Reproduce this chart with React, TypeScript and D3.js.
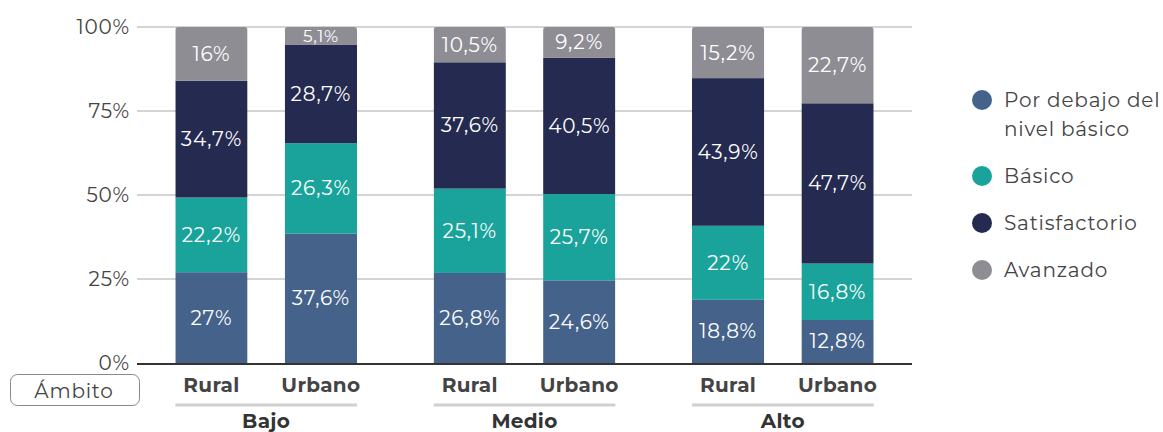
import React from 'react'
import * as d3 from 'd3'

const WIDTH = 1163
const HEIGHT = 432

const groups = ['Bajo', 'Medio', 'Alto']
const ambitos = ['Rural', 'Urbano']
const levels = ['Por debajo del nivel básico', 'Básico', 'Satisfactorio', 'Avanzado']
const legendLines = [['Por debajo del', 'nivel básico'], ['Básico'], ['Satisfactorio'], ['Avanzado']]
const colors = ['#45638a', '#19a39b', '#252b50', '#8e8d94']

// percentages per bar, order: Bajo Rural, Bajo Urbano, Medio Rural, Medio Urbano, Alto Rural, Alto Urbano
const porDebajo = [27, 37.6, 26.8, 24.6, 18.8, 12.8]
const basico = [22.2, 26.3, 25.1, 25.7, 22, 16.8]
const satisfactorio = [34.7, 28.7, 37.6, 40.5, 43.9, 47.7]
const avanzado = [16, 5.1, 10.5, 9.2, 15.2, 22.7]

const yTicks = [0, 25, 50, 75, 100]

const FONT = "Montserrat, 'Open Sans', 'Noto Sans', sans-serif"
const LS = 0.8

const fmt = (v: number) => String(v).replace('.', ',') + '%'

export default function App() {
  const rows = groups.flatMap((g, gi) =>
    ambitos.map((a, ai) => {
      const i = gi * 2 + ai
      return {
        group: g,
        ambito: a,
        [levels[0]]: porDebajo[i],
        [levels[1]]: basico[i],
        [levels[2]]: satisfactorio[i],
        [levels[3]]: avanzado[i],
      } as any
    })
  )

  // bars are normalised to 100%
  const stacked = d3.stack<any>().keys(levels).offset(d3.stackOffsetExpand)(rows)

  const x0 = d3.scaleBand().domain(groups).range([137, 912]).padding(0)
  const x1 = d3.scaleBand().domain(ambitos).range([0, x0.bandwidth()]).paddingInner(0.34).paddingOuter(0.35)
  const y = d3.scaleLinear().domain([0, 1]).range([363, 27])
  const color = d3.scaleOrdinal<string>().domain(levels).range(colors)

  const barX = (d: any) => (x0(d.group) as number) + (x1(d.ambito) as number)
  const bw = x1.bandwidth()

  return (
    <svg width={WIDTH} height={HEIGHT} style={{ display: 'block', position: 'absolute', left: 0, top: 0 }} fontFamily={FONT}>
      <defs>
        {rows.map((d, i) => (
          <clipPath id={`clip${i}`} key={i}>
            <rect x={barX(d)} y={y(1)} width={bw} height={y(0) - y(1) + 10} rx={3} />
          </clipPath>
        ))}
      </defs>

      {/* grid */}
      <g>
        {yTicks.map((t) => (
          <g key={t}>
            {t > 0 && <line x1={137} x2={912} y1={y(t / 100)} y2={y(t / 100)} stroke="#d4d4d4" strokeWidth={2} />}
            <text x={130} y={y(t / 100)} dy="0.35em" textAnchor="end" fontSize={20} letterSpacing={LS} fill="#444">
              {t}%
            </text>
          </g>
        ))}
      </g>

      {/* bars */}
      {rows.map((d, i) => (
        <g key={i} clipPath={`url(#clip${i})`}>
          {stacked.map((s) => (
            <rect
              key={s.key}
              x={barX(d)}
              y={y(s[i][1])}
              width={bw}
              height={y(s[i][0]) - y(s[i][1])}
              fill={color(s.key)}
            />
          ))}
        </g>
      ))}

      {/* value labels */}
      {rows.map((d, i) =>
        stacked.map((s) => {
          const v = s[i][1] - s[i][0]
          const small = v < 0.07
          return (
            <text
              key={`${i}-${s.key}`}
              x={barX(d) + bw / 2}
              y={(y(s[i][0]) + y(s[i][1])) / 2}
              dy="0.35em"
              textAnchor="middle"
              fontSize={small ? 17 : 20}
              letterSpacing={small ? 0.6 : LS}
              fill="#ffffff"
            >
              {fmt(d[s.key])}
            </text>
          )
        })
      )}

      {/* x axis */}
      <line x1={137} x2={912} y1={y(0) + 1} y2={y(0) + 1} stroke="#333" strokeWidth={2} />

      {rows.map((d, i) => (
        <text key={i} x={barX(d) + bw / 2} y={385} dy="0.35em" textAnchor="middle" fontSize={20} fontWeight={700} letterSpacing={0.3} fill="#444">
          {d.ambito}
        </text>
      ))}

      {groups.map((g) => {
        const start = (x0(g) as number) + (x1(ambitos[0]) as number)
        const end = (x0(g) as number) + (x1(ambitos[ambitos.length - 1]) as number) + bw
        return (
          <g key={g}>
            <line x1={start} x2={end} y1={405} y2={405} stroke="#d0d0d0" strokeWidth={3} />
            <text x={(start + end) / 2} y={421} dy="0.35em" textAnchor="middle" fontSize={20} fontWeight={700} letterSpacing={0.3} fill="#333">
              {g}
            </text>
          </g>
        )
      })}

      {/* Ámbito box */}
      <rect x={10.5} y={374.5} width={129} height={31} rx={7} fill="#fff" stroke="#888" strokeWidth={1} />
      <text x={74} y={391} dy="0.35em" textAnchor="middle" fontSize={20} letterSpacing={LS} fill="#444">
        Ámbito
      </text>

      {/* legend */}
      {legendLines.map((lines, i) => {
        const cy = [100, 176, 223, 270][i]
        return (
          <g key={i}>
            <circle cx={982} cy={cy} r={10} fill={colors[i]} />
            {lines.map((l, j) => (
              <text key={j} x={1004} y={cy + j * 29} dy="0.35em" fontSize={20} letterSpacing={LS} fill="#444">
                {l}
              </text>
            ))}
          </g>
        )
      })}
    </svg>
  )
}
